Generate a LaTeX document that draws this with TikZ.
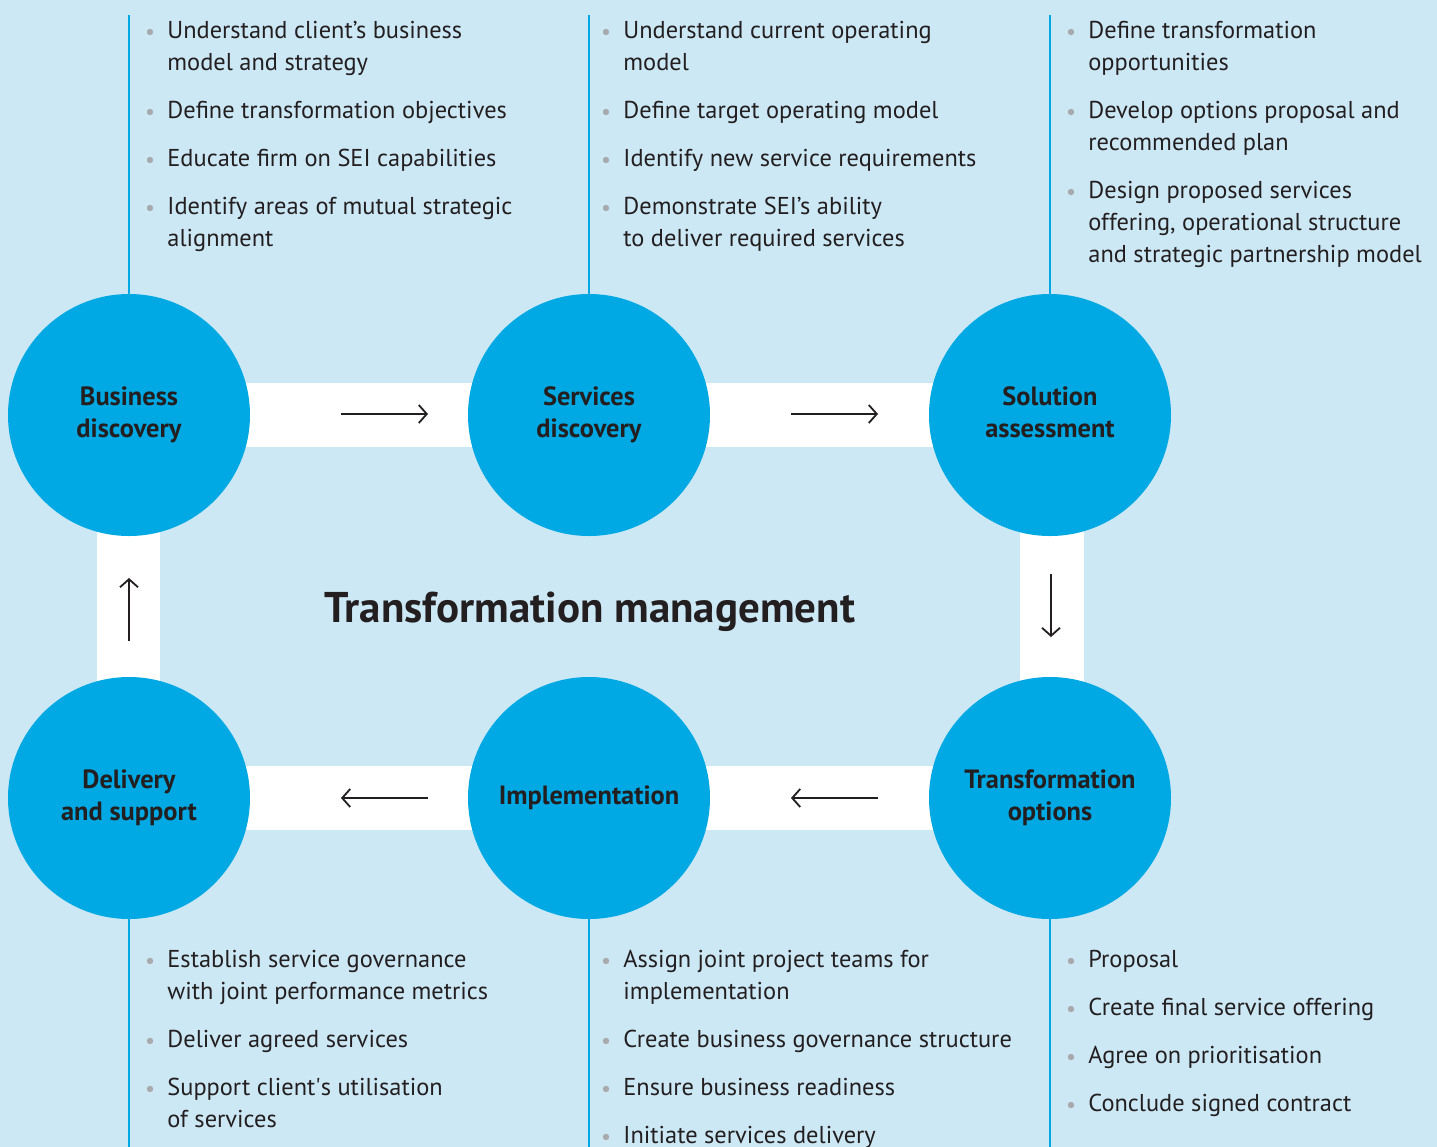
\documentclass[tikz,border=0pt]{standalone}
\usepackage{fontspec}
\setmainfont{PT Sans}
\usetikzlibrary{arrows.meta}

\definecolor{bgblue}{HTML}{CCE8F5}
\definecolor{seiblue}{HTML}{00A9E3}
\definecolor{ink}{HTML}{231F20}
\definecolor{dotgray}{HTML}{A7A9AC}

% one bullet point: name, x, baseline y, text
\newcommand{\point}[4]{%
  \fill[dotgray] ({#2-17},{#3-6}) circle (1.6pt);
  \node[item] (#1) at ({#2},{#3-22.4}) {\strut #4};
}

\begin{document}
\begin{tikzpicture}[
 x=0.5pt, y=-0.5pt,
 phase/.style={circle, fill=seiblue, minimum size=121pt, inner sep=0pt, align=center,
   text=ink, font=\fontsize{13.2}{16}\selectfont\bfseries},
 item/.style={anchor=north west, inner sep=0pt, align=left, text=ink,
   font=\fontsize{12.2}{16}\selectfont},
 stem/.style={draw=seiblue, line width=0.6pt},
 band/.style={fill=white},
 flow/.style={-{Straight Barb[length=4pt,width=9pt]}, line width=0.9pt, draw=ink}
]
\useasboundingbox[fill=bgblue] (0,0) rectangle (1437,1147);

% white bands
\fill[band] (129,383) rectangle (1050,447);
\fill[band] (129,766) rectangle (1050,830);
\fill[band] (97,415) rectangle (160,798);
\fill[band] (1020,415) rectangle (1084,798);

% phases
\node[phase] (bd) at (129,415) {\strut Business\\\strut discovery};
\node[phase] (sd) at (589,415) {\strut Services\\\strut discovery};
\node[phase] (sa) at (1050,415) {\strut Solution\\\strut assessment};
\node[phase] (to) at (1050,798) {\strut Transformation\\\strut options};
\node[phase] (im) at (589,798) {\strut Implementation};
\node[phase] (ds) at (129,798) {\strut Delivery\\\strut and support};

% title
\node[anchor=base, text=ink, font=\fontsize{21.5}{24}\selectfont\bfseries] (title)
  at (590,622) {Transformation management};

% stems to the lists
\coordinate (bdtop) at (129,15);
\coordinate (sdtop) at (589,15);
\coordinate (satop) at (1050,15);
\coordinate (dsbot) at (129,1147);
\coordinate (imbot) at (589,1147);
\coordinate (tobot) at (1050,1147);
\draw[stem] (bdtop) -- (bd.north);
\draw[stem] (sdtop) -- (sd.north);
\draw[stem] (satop) -- (sa.north);
\draw[stem] (ds.south) -- (dsbot);
\draw[stem] (im.south) -- (imbot);
\draw[stem] (to.south) -- (tobot);

% arrows in the bands
\coordinate (a1s) at (341,414); \coordinate (a1e) at (428,414);
\coordinate (a2s) at (791,414); \coordinate (a2e) at (878,414);
\coordinate (a3s) at (1051,574); \coordinate (a3e) at (1051,637);
\coordinate (a4s) at (878,798); \coordinate (a4e) at (791,798);
\coordinate (a5s) at (428,798); \coordinate (a5e) at (341,798);
\coordinate (a6s) at (129,641); \coordinate (a6e) at (129,578);
\draw[flow] (a1s) -- (a1e);
\draw[flow] (a2s) -- (a2e);
\draw[flow] (a3s) -- (a3e);
\draw[flow] (a4s) -- (a4e);
\draw[flow] (a5s) -- (a5e);
\draw[flow] (a6s) -- (a6e);

% business discovery
\point{bd1}{167}{38}{Understand client’s business\\model and strategy}
\point{bd2}{167}{118}{Define transformation objectives}
\point{bd3}{167}{166}{Educate firm on SEI capabilities}
\point{bd4}{167}{214}{Identify areas of mutual strategic\\alignment}

% services discovery
\point{sd1}{623}{38}{Understand current operating\\model}
\point{sd2}{623}{118}{Define target operating model}
\point{sd3}{623}{166}{Identify new service requirements}
\point{sd4}{623}{214}{Demonstrate SEI’s ability\\to deliver required services}

% solution assessment
\point{sa1}{1088}{38}{Define transformation\\opportunities}
\point{sa2}{1088}{118}{Develop options proposal and\\recommended plan}
\point{sa3}{1088}{198}{Design proposed services\\offering, operational structure\\and strategic partnership model}

% delivery and support
\point{ds1}{167}{967}{Establish service governance\\with joint performance metrics}
\point{ds2}{167}{1047}{Deliver agreed services}
\point{ds3}{167}{1095}{Support client\textquotesingle s utilisation\\of services}

% implementation
\point{im1}{623}{967}{Assign joint project teams for\\implementation}
\point{im2}{623}{1047}{Create business governance structure}
\point{im3}{623}{1095}{Ensure business readiness}
\point{im4}{623}{1143}{Initiate services delivery}

% transformation options
\point{to1}{1088}{967}{Proposal}
\point{to2}{1088}{1015}{Create final service offering}
\point{to3}{1088}{1063}{Agree on prioritisation}
\point{to4}{1088}{1111}{Conclude signed contract}

\end{tikzpicture}
\end{document}
